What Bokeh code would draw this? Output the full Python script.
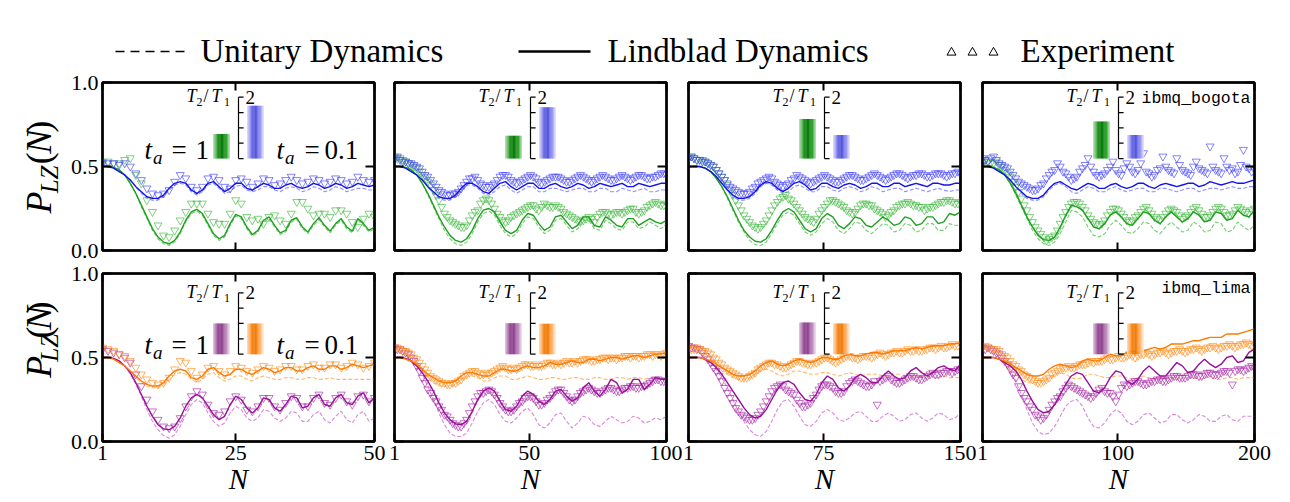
import numpy as np
from bokeh.plotting import figure
from bokeh.models import Range1d, LinearAxis, FixedTicker
from bokeh.layouts import column, row
from bokeh.embed import file_html
from bokeh.resources import INLINE
from bokeh.core.properties import value

# ======================= DATA =======================
N_MAX = [50, 100, 150, 200]
X_TICKS = [[1, 25, 50], [1, 50, 100], [1, 75, 150], [1, 100, 200]]
Y_TICKS = [0.0, 0.5, 1.0]
Y_TICK_LABELS = {0: "0.0", 0.5: "0.5", 1: "1.0"}
DEVICES = ["ibmq_bogota", "ibmq_lima"]

# inset bars: T2/T1 for t_a = 1 (left bar) and t_a = 0.1 (right bar)
t2t1_bogota_ta1 = [0.80, 0.74, 1.29, 1.21]
t2t1_bogota_ta01 = [1.72, 1.67, 0.77, 0.77]
t2t1_lima_ta1 = [1.00, 1.01, 1.03, 1.00]
t2t1_lima_ta01 = [1.00, 0.99, 1.00, 1.00]

# ---------- ibmq_bogota, panel 1 (N = 1..50) ----------
bog1_lind_ta1 = [.50,.50,.495,.48,.45,.40,.34,.27,.20,.13,.08,.05,.04,.06,.11,.18,.23,.245,.22,.16,.10,.07,.09,.16,.215,.20,.14,.095,.12,.18,.20,.15,.105,.12,.18,.195,.14,.11,.16,.195,.15,.115,.16,.19,.14,.115,.19,.16,.12,.14]
bog1_unit_ta1 = [.50,.50,.495,.48,.45,.40,.34,.26,.19,.12,.07,.04,.03,.05,.10,.17,.22,.235,.21,.15,.09,.06,.08,.15,.205,.19,.13,.085,.11,.17,.19,.14,.095,.11,.17,.185,.13,.10,.15,.185,.14,.105,.15,.18,.13,.105,.18,.15,.11,.13]
bog1_exp_ta1 = [.53,.53,.52,.52,.54,.55,.45,.40,.30,.23,.15,.09,.08,.12,.18,.23,.28,.28,.28,.22,.17,.16,.16,.22,.30,.28,.20,.18,.19,.16,.20,.21,.18,.16,.22,.29,.29,.25,.21,.22,.22,.20,.24,.24,.22,.17,.14,.19,.22,.20]
bog1_lind_ta01 = [.50,.50,.49,.47,.45,.42,.38,.35,.32,.31,.31,.33,.37,.40,.41,.40,.36,.34,.36,.40,.41,.38,.35,.37,.40,.40,.37,.36,.38,.40,.39,.37,.37,.39,.40,.38,.37,.38,.40,.39,.37,.38,.40,.39,.37,.38,.40,.39,.38,.39]
bog1_unit_ta01 = [.50,.50,.49,.47,.45,.42,.38,.34,.31,.30,.30,.32,.36,.39,.40,.39,.35,.33,.35,.39,.40,.37,.34,.35,.38,.39,.36,.35,.36,.38,.38,.36,.35,.37,.38,.37,.35,.36,.38,.37,.35,.36,.38,.37,.35,.36,.37,.37,.36,.36]
bog1_exp_ta01 = [.52,.52,.52,.51,.52,.50,.46,.42,.37,.34,.33,.34,.36,.41,.45,.43,.38,.36,.38,.43,.44,.42,.38,.37,.42,.43,.41,.38,.40,.43,.42,.39,.40,.42,.44,.42,.40,.41,.43,.42,.40,.41,.43,.42,.40,.41,.44,.42,.41,.42]

# ---------- ibmq_bogota, panel 2 (N = 1..100) ----------
bog2_lind_ta1 = [.50,.50,.495,.48,.45,.40,.34,.27,.20,.14,.09,.06,.05,.07,.12,.19,.24,.25,.23,.17,.12,.10,.12,.18,.22,.21,.16,.12,.14,.20,.21,.17,.13,.15,.20,.20,.15,.14,.20,.18,.15,.14,.19,.19,.15,.17,.19,.17,.16,.18]
bog2_unit_ta1 = [.50,.50,.495,.48,.45,.40,.33,.26,.19,.12,.07,.04,.03,.05,.10,.17,.22,.235,.21,.15,.10,.08,.10,.16,.20,.19,.14,.10,.12,.18,.19,.15,.11,.13,.18,.18,.13,.12,.18,.16,.13,.12,.17,.17,.13,.14,.17,.15,.13,.16]
bog2_exp_ta1 = [.56,.55,.53,.51,.49,.45,.41,.36,.30,.22,.18,.16,.14,.15,.21,.24,.30,.30,.25,.20,.17,.20,.22,.24,.26,.27,.24,.28,.26,.27,.25,.22,.20,.18,.18,.20,.17,.22,.23,.21,.23,.22,.24,.25,.22,.24,.27,.29,.27,.28]
bog2_exp_ta1_mid = [.55,.54,.52,.50,.47,.43,.39,.33,.26,.20,.17,.15,.14,.18,.23,.28,.31,.28,.22,.18,.18,.21,.23,.25,.27,.25,.26,.27,.26,.26,.23,.21,.19,.17,.19,.19,.20,.23,.22,.22,.23,.23,.25,.23,.23,.26,.28,.28,.27]
bog2_lind_ta01 = [.50,.50,.49,.47,.45,.42,.38,.35,.32,.31,.31,.33,.37,.40,.40,.38,.35,.34,.37,.40,.41,.38,.36,.38,.40,.40,.37,.37,.39,.40,.38,.37,.38,.40,.39,.37,.38,.40,.39,.38,.39,.40,.38,.38,.40,.39,.38,.39,.40,.40]
bog2_unit_ta01 = [.50,.50,.49,.47,.45,.42,.38,.34,.31,.30,.30,.32,.36,.39,.39,.37,.34,.33,.35,.38,.39,.36,.34,.36,.38,.38,.35,.35,.37,.37,.36,.35,.36,.37,.37,.35,.35,.37,.37,.35,.35,.37,.36,.35,.36,.37,.35,.35,.36,.36]
bog2_exp_ta01 = [.55,.54,.53,.52,.50,.47,.44,.40,.36,.34,.33,.34,.37,.41,.43,.42,.39,.38,.40,.44,.45,.42,.40,.42,.44,.44,.41,.41,.43,.44,.43,.41,.42,.44,.44,.42,.42,.44,.44,.42,.43,.45,.43,.43,.45,.44,.43,.44,.46,.45]
bog2_exp_ta01_mid = [.56,.53,.52,.51,.49,.45,.42,.38,.35,.33,.34,.35,.39,.43,.44,.40,.38,.39,.42,.45,.44,.41,.41,.43,.45,.43,.40,.42,.44,.44,.42,.41,.43,.45,.43,.41,.43,.45,.43,.42,.44,.44,.42,.44,.45,.43,.44,.45,.46]

# ---------- ibmq_bogota, panel 3 (N = 1..150) ----------
bog3_lind_ta1 = [.50,.50,.50,.49,.47,.43,.38,.32,.25,.18,.12,.08,.055,.05,.07,.12,.18,.23,.25,.23,.18,.13,.11,.13,.19,.22,.20,.15,.13,.16,.20,.19,.15,.14,.17,.20,.18,.15,.16,.20,.19,.15,.16,.20,.20,.16,.17,.22,.21,.23]
bog3_unit_ta1 = [.50,.50,.50,.49,.47,.43,.38,.31,.24,.17,.11,.06,.035,.03,.05,.10,.16,.21,.23,.21,.16,.11,.09,.11,.16,.19,.17,.12,.10,.13,.17,.16,.12,.10,.13,.16,.15,.11,.12,.16,.15,.11,.12,.16,.16,.12,.12,.16,.15,.15]
bog3_exp_ta1 = [.55,.55,.54,.53,.51,.48,.44,.39,.33,.27,.21,.17,.14,.14,.18,.24,.29,.32,.31,.28,.24,.20,.18,.19,.24,.28,.30,.28,.26,.23,.23,.27,.28,.27,.24,.22,.21,.24,.27,.28,.28,.27,.26,.25,.26,.28,.29,.30,.28,.29]
bog3_exp_ta1_mid = [.56,.54,.54,.52,.50,.46,.42,.36,.30,.24,.19,.15,.13,.16,.21,.27,.31,.33,.30,.26,.22,.19,.17,.22,.26,.30,.29,.27,.24,.22,.25,.28,.27,.25,.23,.20,.23,.26,.28,.29,.27,.26,.24,.26,.27,.29,.30,.29,.28]
bog3_lind_ta01 = [.50,.50,.50,.49,.47,.44,.40,.36,.33,.31,.31,.32,.35,.39,.41,.40,.37,.35,.37,.40,.41,.39,.36,.37,.40,.40,.38,.37,.39,.40,.39,.37,.38,.40,.40,.38,.38,.40,.40,.38,.39,.40,.39,.38,.40,.40,.39,.39,.40,.40]
bog3_unit_ta01 = [.50,.50,.50,.49,.47,.44,.40,.36,.32,.30,.30,.31,.34,.38,.40,.39,.36,.34,.35,.38,.39,.37,.35,.35,.38,.38,.36,.35,.37,.38,.37,.35,.36,.38,.37,.35,.36,.37,.37,.35,.36,.37,.36,.35,.36,.37,.36,.35,.36,.36]
bog3_exp_ta01 = [.55,.55,.54,.53,.51,.48,.44,.40,.37,.35,.34,.35,.38,.41,.43,.43,.40,.38,.40,.43,.44,.42,.40,.42,.44,.44,.42,.41,.43,.45,.44,.42,.43,.45,.45,.43,.43,.45,.46,.44,.44,.45,.46,.44,.45,.46,.45,.45,.46,.46]
bog3_exp_ta01_mid = [.56,.54,.53,.52,.50,.46,.42,.38,.36,.34,.34,.37,.40,.42,.44,.41,.39,.39,.42,.45,.43,.41,.41,.43,.45,.43,.41,.42,.44,.45,.43,.42,.44,.46,.44,.42,.44,.46,.45,.43,.45,.46,.45,.44,.46,.46,.44,.46,.47]

# ---------- ibmq_bogota, panel 4 (N = 1..200) ----------
bog4_lind_ta1 = [.50,.50,.495,.48,.45,.40,.34,.27,.20,.14,.09,.065,.06,.08,.14,.21,.27,.26,.24,.19,.14,.13,.16,.21,.23,.20,.16,.15,.19,.23,.22,.18,.16,.20,.23,.20,.17,.19,.23,.21,.17,.18,.23,.22,.18,.19,.24,.21,.20,.24]
bog4_unit_ta1 = [.50,.50,.495,.48,.45,.40,.33,.26,.19,.12,.07,.04,.03,.05,.10,.17,.24,.23,.20,.14,.09,.08,.10,.15,.18,.15,.11,.10,.13,.17,.16,.12,.10,.14,.17,.14,.11,.12,.17,.15,.11,.12,.17,.16,.11,.12,.17,.14,.12,.15]
bog4_exp_ta1 = [.52,.53,.52,.51,.48,.44,.38,.31,.24,.17,.12,.08,.07,.09,.16,.23,.28,.29,.26,.21,.17,.15,.18,.23,.25,.22,.18,.18,.21,.25,.24,.20,.18,.22,.25,.23,.19,.21,.25,.24,.20,.21,.25,.25,.21,.22,.26,.24,.22,.25]
bog4_exp_ta1_mid = [.54,.52,.53,.50,.46,.41,.35,.27,.20,.14,.10,.06,.08,.12,.20,.26,.29,.28,.24,.19,.16,.16,.21,.25,.24,.20,.17,.20,.23,.26,.22,.19,.20,.24,.24,.21,.20,.23,.26,.22,.20,.23,.26,.23,.21,.24,.25,.23,.24]
bog4_lind_ta01 = [.50,.50,.49,.47,.45,.42,.38,.35,.32,.31,.31,.33,.37,.40,.41,.39,.37,.36,.38,.40,.39,.37,.37,.39,.40,.38,.37,.38,.40,.40,.38,.37,.39,.40,.39,.38,.39,.40,.40,.38,.39,.41,.40,.39,.40,.41,.40,.40,.41,.42]
bog4_unit_ta01 = [.50,.50,.49,.47,.45,.42,.38,.34,.31,.30,.30,.32,.36,.39,.40,.38,.35,.34,.36,.38,.37,.35,.35,.37,.38,.36,.35,.36,.37,.37,.35,.35,.37,.37,.36,.35,.36,.37,.37,.35,.36,.37,.37,.36,.37,.38,.37,.37,.38,.38]
bog4_exp_ta01 = [.55,.53,.56,.52,.50,.47,.43,.40,.38,.36,.37,.40,.45,.48,.50,.46,.42,.44,.49,.55,.47,.44,.46,.50,.48,.45,.52,.47,.48,.58,.46,.45,.49,.50,.47,.55,.48,.46,.50,.49,.47,.62,.48,.46,.50,.49,.47,.60,.49,.48]
bog4_exp_ta01_mid = [.54,.55,.54,.51,.49,.45,.41,.39,.37,.36,.39,.43,.47,.52,.47,.44,.43,.47,.51,.50,.45,.45,.48,.53,.46,.49,.50,.46,.52,.47,.44,.48,.56,.48,.46,.51,.47,.45,.53,.48,.46,.50,.47,.55,.48,.46,.51,.50,.47]

# ---------- ibmq_lima, panel 5 (N = 1..50) ----------
lim1_lind_ta1 = [.50,.50,.495,.48,.45,.41,.35,.28,.21,.15,.10,.075,.07,.09,.14,.21,.26,.28,.26,.21,.16,.13,.15,.22,.27,.25,.20,.17,.20,.26,.25,.20,.18,.22,.27,.26,.20,.21,.26,.28,.22,.21,.26,.28,.23,.22,.27,.29,.23,.26]
lim1_unit_ta1 = [.50,.50,.495,.48,.45,.40,.34,.27,.19,.12,.07,.035,.02,.04,.09,.16,.22,.25,.23,.17,.12,.09,.11,.17,.21,.19,.14,.12,.14,.19,.18,.14,.12,.14,.18,.17,.12,.12,.16,.18,.13,.11,.15,.18,.13,.11,.16,.18,.12,.14]
lim1_exp_ta1 = [.55,.54,.53,.52,.50,.47,.40,.33,.25,.18,.13,.09,.08,.09,.14,.21,.27,.30,.28,.22,.17,.16,.18,.24,.27,.25,.19,.18,.21,.26,.26,.21,.19,.23,.27,.26,.21,.21,.26,.28,.23,.22,.26,.28,.24,.22,.27,.28,.24,.26]
lim1_lind_ta01 = [.50,.50,.49,.47,.45,.42,.39,.36,.34,.33,.33,.35,.39,.42,.43,.42,.38,.37,.39,.43,.44,.41,.39,.40,.43,.43,.41,.40,.42,.44,.43,.41,.42,.44,.44,.42,.42,.44,.45,.43,.43,.45,.45,.43,.44,.46,.45,.44,.45,.46]
lim1_unit_ta01 = [.50,.50,.49,.47,.45,.42,.38,.35,.33,.32,.32,.34,.37,.40,.41,.40,.37,.35,.37,.40,.41,.38,.36,.37,.39,.39,.37,.36,.38,.39,.38,.37,.37,.38,.38,.37,.37,.38,.38,.37,.37,.38,.37,.37,.37,.37,.37,.37,.37,.37]
lim1_exp_ta01 = [.56,.55,.54,.52,.51,.48,.44,.40,.37,.35,.34,.35,.38,.43,.48,.47,.42,.38,.40,.44,.45,.42,.40,.42,.45,.44,.42,.41,.43,.45,.44,.42,.43,.45,.45,.43,.43,.45,.46,.44,.44,.46,.46,.44,.45,.47,.46,.44,.45,.47]

# ---------- ibmq_lima, panel 6 (N = 1..100) ----------
lim2_lind_ta1 = [.50,.50,.495,.48,.45,.41,.36,.30,.23,.17,.13,.105,.10,.12,.18,.25,.30,.32,.30,.24,.19,.18,.21,.27,.30,.28,.24,.22,.25,.30,.31,.27,.24,.26,.32,.35,.30,.27,.31,.37,.35,.29,.31,.37,.37,.31,.34,.38,.37,.37]
lim2_unit_ta1 = [.50,.50,.495,.48,.45,.40,.33,.25,.17,.10,.05,.03,.03,.05,.11,.18,.23,.25,.22,.16,.12,.11,.14,.18,.20,.16,.10,.08,.11,.16,.17,.12,.08,.11,.15,.14,.10,.09,.12,.15,.13,.11,.12,.15,.14,.11,.12,.14,.13,.15]
lim2_exp_ta1 = [.56,.55,.53,.50,.45,.38,.31,.26,.21,.16,.13,.10,.09,.13,.21,.27,.29,.31,.28,.23,.19,.18,.21,.24,.27,.26,.22,.23,.26,.30,.31,.27,.24,.27,.30,.32,.30,.29,.31,.32,.30,.31,.32,.33,.32,.33,.35,.37,.36,.36]
lim2_exp_ta1_mid = [.55,.54,.52,.48,.42,.35,.29,.24,.19,.15,.11,.09,.11,.17,.24,.29,.30,.30,.26,.21,.18,.19,.23,.26,.27,.24,.22,.25,.28,.31,.29,.25,.25,.29,.31,.31,.29,.30,.32,.31,.30,.32,.33,.32,.33,.34,.36,.37,.36]
lim2_lind_ta01 = [.50,.50,.49,.48,.46,.43,.40,.38,.36,.35,.35,.36,.39,.41,.41,.40,.39,.39,.41,.43,.43,.42,.42,.44,.45,.44,.44,.45,.47,.46,.46,.47,.48,.47,.47,.49,.49,.48,.49,.50,.50,.49,.50,.51,.51,.50,.51,.52,.52,.53]
lim2_unit_ta01 = [.50,.50,.49,.47,.45,.42,.38,.35,.33,.33,.33,.34,.37,.39,.39,.38,.36,.36,.38,.39,.39,.37,.37,.38,.39,.38,.37,.37,.38,.38,.37,.37,.38,.38,.37,.37,.38,.38,.37,.37,.38,.38,.37,.38,.38,.37,.38,.38,.38,.38]
lim2_exp_ta01 = [.56,.55,.54,.52,.49,.45,.41,.38,.36,.35,.34,.35,.37,.40,.42,.41,.40,.40,.42,.44,.44,.43,.43,.45,.46,.45,.45,.46,.47,.46,.46,.48,.47,.47,.49,.49,.48,.49,.50,.50,.49,.50,.51,.51,.50,.51,.52,.52,.51,.53]
lim2_exp_ta01_mid = [.56,.54,.53,.50,.47,.43,.39,.37,.35,.34,.35,.36,.39,.41,.42,.40,.41,.41,.43,.45,.43,.44,.44,.46,.45,.46,.45,.47,.46,.47,.47,.47,.48,.48,.49,.48,.49,.50,.49,.50,.50,.51,.50,.51,.51,.52,.51,.52,.52]

# ---------- ibmq_lima, panel 7 (N = 1..150) ----------
lim3_lind_ta1 = [.50,.50,.50,.49,.47,.44,.40,.35,.30,.25,.20,.16,.14,.15,.19,.25,.31,.35,.36,.34,.29,.25,.24,.28,.35,.39,.37,.32,.30,.33,.38,.40,.38,.35,.35,.39,.42,.39,.37,.38,.42,.44,.41,.39,.41,.44,.45,.43,.42,.46]
lim3_unit_ta1 = [.50,.50,.50,.49,.47,.43,.38,.32,.25,.18,.12,.07,.04,.03,.06,.12,.19,.24,.25,.21,.15,.10,.09,.12,.17,.19,.17,.13,.12,.14,.17,.18,.15,.12,.12,.15,.17,.15,.12,.13,.16,.17,.14,.12,.14,.17,.16,.13,.14,.17]
lim3_exp_ta1 = [.57,.56,.55,.51,.47,.42,.36,.29,.23,.18,.15,.13,.14,.18,.24,.30,.33,.33,.30,.28,.23,.21,.23,.28,.33,.34,.32,.29,.30,.35,.37,.35,.33,.34,.22,.37,.39,.36,.35,.37,.39,.38,.37,.39,.41,.40,.41,.42,.42,.43]
lim3_exp_ta1_mid = [.56,.55,.53,.49,.44,.39,.32,.26,.20,.16,.14,.13,.16,.21,.27,.32,.34,.31,.29,.25,.21,.22,.26,.31,.34,.33,.30,.29,.33,.36,.36,.34,.33,.36,.36,.38,.37,.35,.36,.38,.39,.37,.38,.40,.40,.41,.42,.41,.43]
lim3_lind_ta01 = [.50,.50,.50,.49,.48,.46,.44,.42,.40,.39,.39,.40,.42,.45,.47,.48,.46,.45,.46,.48,.49,.48,.47,.48,.50,.50,.49,.49,.51,.52,.51,.51,.52,.53,.53,.52,.53,.54,.54,.54,.55,.56,.55,.56,.57,.57,.57,.58,.58,.59]
lim3_unit_ta01 = [.50,.50,.50,.49,.47,.45,.42,.40,.38,.37,.37,.38,.40,.42,.43,.42,.40,.39,.40,.42,.42,.41,.40,.40,.41,.41,.40,.39,.40,.41,.40,.39,.40,.40,.40,.39,.39,.40,.40,.39,.39,.39,.39,.39,.38,.38,.39,.38,.38,.38]
lim3_exp_ta01 = [.56,.55,.55,.54,.52,.49,.46,.43,.41,.39,.38,.39,.41,.44,.46,.47,.46,.44,.45,.47,.48,.47,.46,.47,.49,.50,.48,.48,.50,.51,.50,.50,.51,.50,.52,.52,.52,.53,.53,.54,.54,.55,.54,.55,.56,.56,.56,.57,.57,.58]
lim3_exp_ta01_mid = [.55,.56,.54,.53,.50,.47,.44,.42,.40,.38,.38,.40,.43,.45,.47,.46,.45,.44,.46,.48,.47,.46,.47,.48,.50,.49,.47,.49,.51,.50,.49,.51,.51,.51,.53,.51,.53,.54,.53,.55,.54,.54,.55,.56,.55,.57,.56,.58,.57]

# ---------- ibmq_lima, panel 8 (N = 1..200) ----------
lim4_lind_ta1 = [.50,.50,.50,.49,.47,.45,.42,.37,.30,.24,.19,.17,.18,.22,.28,.34,.39,.41,.40,.35,.30,.29,.32,.38,.42,.41,.36,.34,.37,.42,.45,.42,.39,.39,.43,.47,.45,.41,.42,.46,.49,.46,.44,.46,.50,.51,.47,.48,.53,.55]
lim4_unit_ta1 = [.50,.50,.50,.49,.46,.42,.36,.28,.19,.11,.06,.04,.05,.09,.15,.21,.24,.25,.21,.14,.09,.08,.11,.16,.19,.17,.12,.10,.12,.16,.17,.14,.11,.12,.16,.16,.13,.11,.13,.16,.15,.12,.12,.15,.16,.13,.12,.15,.15,.15]
lim4_exp_ta1 = [.56,.56,.54,.52,.48,.43,.38,.29,.24,.19,.15,.14,.19,.24,.27,.32,.33,.31,.29,.27,.27,.31,.30,.29,.24,.32,.33,.35,.36,.34,.35,.36,.37,.36,.38,.39,.38,.39,.40,.39,.40,.41,.40,.41,.42,.34,.43,.42,.44,.44]
lim4_exp_ta1_mid = [.55,.55,.53,.50,.46,.40,.33,.26,.21,.16,.13,.16,.22,.26,.30,.34,.32,.30,.28,.26,.29,.32,.29,.27,.28,.34,.34,.36,.35,.34,.36,.37,.36,.37,.39,.38,.38,.40,.40,.39,.41,.40,.40,.42,.41,.42,.43,.43,.45]
lim4_lind_ta01 = [.50,.50,.50,.49,.48,.46,.44,.42,.40,.39,.39,.40,.43,.45,.46,.45,.44,.45,.48,.49,.48,.48,.50,.52,.51,.51,.53,.54,.53,.54,.55,.56,.55,.56,.58,.58,.58,.59,.60,.60,.61,.62,.62,.62,.64,.64,.64,.65,.66,.67]
lim4_unit_ta01 = [.50,.50,.50,.49,.46,.43,.40,.37,.35,.35,.35,.36,.38,.40,.41,.40,.38,.37,.38,.40,.40,.39,.38,.38,.39,.39,.38,.37,.38,.39,.38,.37,.38,.38,.38,.37,.38,.38,.38,.37,.38,.38,.37,.37,.38,.38,.37,.38,.38,.38]
lim4_exp_ta01 = [.56,.56,.55,.54,.51,.48,.45,.42,.39,.37,.35,.36,.38,.41,.43,.44,.44,.45,.46,.47,.47,.48,.49,.49,.50,.50,.51,.51,.51,.52,.52,.52,.53,.53,.53,.54,.54,.54,.55,.55,.55,.56,.56,.56,.57,.57,.57,.58,.58,.58]
lim4_exp_ta01_mid = [.57,.55,.55,.52,.50,.46,.43,.40,.38,.36,.35,.37,.40,.42,.44,.45,.44,.46,.46,.48,.48,.48,.50,.49,.51,.50,.52,.50,.52,.53,.51,.53,.54,.52,.54,.55,.53,.55,.56,.54,.56,.57,.55,.57,.58,.56,.58,.59,.57]

# ======================= STYLE =======================
SERIF = "Liberation Serif"
MONO = "Liberation Mono"
COL = {
    "green": dict(line="#1f9f1f", dash="#33bb33", mark="#3cb83c",
                  grad=["#b8e2b8", "#4fb04f", "#0d860d", "#007300", "#0c8a0c", "#33a833", "#a8dca8"]),
    "blue": dict(line="#1414e8", dash="#6060ff", mark="#4040ff",
                 grad=["#dcdcfc", "#9090f0", "#5a5ae0", "#4c4cd9", "#7070e8", "#a0a0f3", "#dedefc"]),
    "purple": dict(line="#990f99", dash="#cc55cc", mark="#a626a6",
                   grad=["#e0c4e0", "#a86aa8", "#8c3c8c", "#8a388a", "#a262a2", "#c496c4", "#ead8ea"]),
    "orange": dict(line="#ff7a00", dash="#ff9a33", mark="#ff8c1a",
                   grad=["#ffdcb4", "#ffa04a", "#f27800", "#ef7600", "#ff9330", "#ffbf80", "#ffeada"]),
}

FRAME_W, FRAME_H = 272, 168
YLAB_W = 62
LEFT_B = [40, 9, 6, 6]
RIGHT_B = [11, 16, 16, 34]
ROW_B = [(12, 11), (12, 60)]
LEGEND_H = 70
INSET_Y = [(-3.0, 2.48), (-2.85, 2.63)]
DEV_DY = [16, 15]
N_STRIPES = 21


def smooth_gradient(keys, n):
    rgb = np.array([[int(h[i:i + 2], 16) for i in (1, 3, 5)] for h in keys], float)
    out = []
    for t in np.linspace(0, len(keys) - 1, n):
        i = min(int(t), len(keys) - 2)
        f = t - i
        cc = rgb[i] * (1 - f) + rgb[i + 1] * f
        out.append("#%02x%02x%02x" % tuple(int(round(v)) for v in cc))
    return out


def style_axis(ax, ticks, labels=False, overrides=None, tick_in=8):
    ax.ticker = FixedTicker(ticks=ticks)
    ax.axis_line_color = "black"
    ax.axis_line_width = 2
    ax.major_tick_line_color = "black"
    ax.major_tick_line_width = 2
    ax.major_tick_in = tick_in
    ax.major_tick_out = 0
    ax.minor_tick_line_color = None
    ax.minor_tick_in = 0
    ax.minor_tick_out = 0
    if labels:
        ax.major_label_text_font = SERIF
        ax.major_label_text_font_size = "22px"
        ax.major_label_text_color = "black"
        ax.major_label_standoff = 4
        if overrides:
            ax.major_label_overrides = overrides
    else:
        ax.major_label_text_font_size = "0px"
        ax.major_label_text_color = None
        ax.major_label_standoff = 0


def txt(p, x, y, s, size, style="normal", align="left", baseline="middle",
        dx=0, dy=0, font=SERIF, inset=True, angle=0.0):
    kw = dict(x_range_name="ix", y_range_name="iy") if inset else {}
    p.text(x=[x], y=[y], text=[s], text_font=value(font), text_font_size=size,
           text_font_style=style, text_align=align, text_baseline=baseline,
           x_offset=dx, y_offset=dy, text_color="black", angle=angle, **kw)


def make_panel(r, c, series, bars, device):
    top_b, bot_b = ROW_B[r]
    nmax = N_MAX[c]
    p = figure(width=LEFT_B[c] + FRAME_W + RIGHT_B[c], height=top_b + FRAME_H + bot_b,
               x_range=Range1d(1, nmax), y_range=Range1d(0, 1),
               output_backend="svg", toolbar_location=None,
               min_border_left=LEFT_B[c], min_border_right=RIGHT_B[c],
               min_border_top=top_b, min_border_bottom=bot_b)
    p.extra_x_ranges = {"ix": Range1d(-4, 4)}
    p.extra_y_ranges = {"iy": Range1d(*INSET_Y[r])}
    p.grid.visible = False
    p.outline_line_color = "black"
    p.outline_line_width = 2.5
    p.outline_line_alpha = 1.0

    xt = X_TICKS[c]
    bottom = p.below[0]
    left = p.left[0]
    style_axis(bottom, xt, labels=(r == 1))
    style_axis(left, Y_TICKS, labels=(c == 0), overrides=Y_TICK_LABELS, tick_in=9)
    if r == 1:
        bottom.axis_label = "N"
        bottom.axis_label_text_font = SERIF
        bottom.axis_label_text_font_style = "italic"
        bottom.axis_label_text_font_size = "29px"
        bottom.axis_label_text_color = "black"
        bottom.axis_label_standoff = 0
    right_ax = LinearAxis()
    style_axis(right_ax, Y_TICKS, tick_in=9)
    p.add_layout(right_ax, "right")
    top_ax = LinearAxis()
    style_axis(top_ax, xt)
    p.add_layout(top_ax, "above")

    # data: unitary (dashed), experiment (markers), Lindblad (solid)
    for lind, unit, exp, exp_mid, cname in series:
        x = np.linspace(1, nmax, len(unit))
        p.line(x, unit, line_color=COL[cname]["dash"], line_dash="4 2", line_width=1.1, line_alpha=0.7)
    for lind, unit, exp, exp_mid, cname in series:
        x = np.linspace(1, nmax, len(exp))
        xs, ys = list(x), list(exp)
        if exp_mid is not None:
            xm = (x[:-1] + x[1:]) / 2
            xs += list(xm[:len(exp_mid)])
            ys += list(exp_mid)
        p.scatter(xs, ys, marker="inverted_triangle", size=8, fill_color=None,
                  line_color=COL[cname]["mark"], line_alpha=0.65, line_width=1)
    for lind, unit, exp, exp_mid, cname in series:
        x = np.linspace(1, nmax, len(lind))
        p.line(x, lind, line_color=COL[cname]["line"], line_width=1.4)

    # inset bar chart of T2/T1 (bars shaded like cylinders)
    bar_w = 0.5
    for xc, val, cname in [(-0.5, bars[0], series[0][4]), (0.5, bars[1], series[1][4])]:
        grad = smooth_gradient(COL[cname]["grad"], N_STRIPES)
        k = len(grad)
        sw = bar_w / k
        lefts = [xc - bar_w / 2 + j * sw for j in range(k)]
        rights = [lv + sw * (1.3 if j < k - 1 else 1.0) for j, lv in enumerate(lefts)]
        p.quad(left=lefts, right=rights, bottom=0, top=val, fill_color=grad,
               line_color=None, x_range_name="ix", y_range_name="iy")
    itk = [0, 0.5, 1, 1.5, 2]
    p.segment(x0=[0], y0=[0], x1=[0], y1=[2], line_color="black", line_width=1.2,
              x_range_name="ix", y_range_name="iy")
    p.segment(x0=[0] * 5, y0=itk, x1=[0.15] * 5, y1=itk, line_color="black", line_width=1.2,
              x_range_name="ix", y_range_name="iy")
    txt(p, 0, 2, "2", "19px", dx=7)
    txt(p, 0, 2, "T", "18px", "italic", dx=-52, dy=-1)
    txt(p, 0, 2, "2", "12px", dx=-42, dy=5)
    txt(p, 0, 2, "/", "18px", dx=-35, dy=-1)
    txt(p, 0, 2, "T", "18px", "italic", dx=-27, dy=-1)
    txt(p, 0, 2, "1", "12px", dx=-14.5, dy=5)

    if c == 0:
        txt(p, 0, 0, "t", "27px", "italic", dx=-94, dy=-9)
        txt(p, 0, 0, "a", "19px", "italic", dx=-85.5, dy=-1.5)
        txt(p, 0, 0, "=", "27px", dx=-67, dy=-9)
        txt(p, 0, 0, "1", "27px", dx=-43, dy=-9)
        txt(p, 0, 0, "t", "27px", "italic", dx=38, dy=-9)
        txt(p, 0, 0, "a", "19px", "italic", dx=46.5, dy=-1.5)
        txt(p, 0, 0, "=", "27px", dx=66, dy=-9)
        txt(p, 0, 0, "0.1", "27px", dx=86, dy=-9)
    if device:
        txt(p, 4, INSET_Y[r][1], device, "16.5px", align="right",
            dx=-4, dy=DEV_DY[r], font=MONO)
    return p


def canvas(w, h):
    c = figure(width=w, height=h, x_range=Range1d(0, w), y_range=Range1d(0, h),
               x_axis_type=None, y_axis_type=None, output_backend="svg",
               toolbar_location=None, min_border=0, outline_line_color=None)
    c.grid.visible = False
    return c


def ylabel_canvas(h, yc):
    c = canvas(YLAB_W, h)
    s = yc - 53
    mid_big = 51 - 12.2
    mid_sub = 57 - 8.4
    parts = [("P", s, mid_big, "36px", "italic"),
             ("LZ", s + 23, mid_sub, "25px", "italic"),
             ("(", s + 56, mid_big, "36px", "normal"),
             ("N", s + 68, mid_big, "36px", "italic"),
             (")", s + 92, mid_big, "36px", "normal")]
    for t, yy, xx, fs, st in parts:
        txt(c, xx, yy, t, fs, st, inset=False, angle=np.pi / 2)
    return c


TOTAL_W = YLAB_W + sum(LEFT_B) + 4 * FRAME_W + sum(RIGHT_B)

# ---------- legend ----------
leg = canvas(TOTAL_W, LEGEND_H)
leg.line([115, 190], [19, 19], line_color="black", line_dash="9 6", line_width=1.6)
txt(leg, 200, 20, "Unitary Dynamics", "33px", inset=False)
leg.line([518, 590], [19, 19], line_color="black", line_width=2.6)
txt(leg, 607, 20, "Lindblad Dynamics", "33px", inset=False)
leg.scatter([951, 972, 993], [18, 18, 18], marker="triangle", size=9, fill_color=None,
            line_color="black", line_width=1)
txt(leg, 1020, 20, "Experiment", "33px", inset=False)

# ---------- panels ----------
bog = [
    [(bog1_lind_ta1, bog1_unit_ta1, bog1_exp_ta1, None, "green"),
     (bog1_lind_ta01, bog1_unit_ta01, bog1_exp_ta01, None, "blue")],
    [(bog2_lind_ta1, bog2_unit_ta1, bog2_exp_ta1, bog2_exp_ta1_mid, "green"),
     (bog2_lind_ta01, bog2_unit_ta01, bog2_exp_ta01, bog2_exp_ta01_mid, "blue")],
    [(bog3_lind_ta1, bog3_unit_ta1, bog3_exp_ta1, bog3_exp_ta1_mid, "green"),
     (bog3_lind_ta01, bog3_unit_ta01, bog3_exp_ta01, bog3_exp_ta01_mid, "blue")],
    [(bog4_lind_ta1, bog4_unit_ta1, bog4_exp_ta1, bog4_exp_ta1_mid, "green"),
     (bog4_lind_ta01, bog4_unit_ta01, bog4_exp_ta01, bog4_exp_ta01_mid, "blue")],
]
lim = [
    [(lim1_lind_ta1, lim1_unit_ta1, lim1_exp_ta1, None, "purple"),
     (lim1_lind_ta01, lim1_unit_ta01, lim1_exp_ta01, None, "orange")],
    [(lim2_lind_ta1, lim2_unit_ta1, lim2_exp_ta1, lim2_exp_ta1_mid, "purple"),
     (lim2_lind_ta01, lim2_unit_ta01, lim2_exp_ta01, lim2_exp_ta01_mid, "orange")],
    [(lim3_lind_ta1, lim3_unit_ta1, lim3_exp_ta1, lim3_exp_ta1_mid, "purple"),
     (lim3_lind_ta01, lim3_unit_ta01, lim3_exp_ta01, lim3_exp_ta01_mid, "orange")],
    [(lim4_lind_ta1, lim4_unit_ta1, lim4_exp_ta1, lim4_exp_ta1_mid, "purple"),
     (lim4_lind_ta01, lim4_unit_ta01, lim4_exp_ta01, lim4_exp_ta01_mid, "orange")],
]

top_panels = [make_panel(0, c, bog[c], (t2t1_bogota_ta1[c], t2t1_bogota_ta01[c]),
                         DEVICES[0] if c == 3 else None) for c in range(4)]
bot_panels = [make_panel(1, c, lim[c], (t2t1_lima_ta1[c], t2t1_lima_ta01[c]),
                         DEVICES[1] if c == 3 else None) for c in range(4)]

h_top = ROW_B[0][0] + FRAME_H + ROW_B[0][1]
h_bot = ROW_B[1][0] + FRAME_H + ROW_B[1][1]
yl_top = ylabel_canvas(h_top, ROW_B[0][1] + FRAME_H / 2)
yl_bot = ylabel_canvas(h_bot, ROW_B[1][1] + FRAME_H / 2)

layout = column(leg, row(yl_top, *top_panels), row(yl_bot, *bot_panels))
open("out.html", "w").write(file_html(layout, INLINE, "P_LZ(N)"))
